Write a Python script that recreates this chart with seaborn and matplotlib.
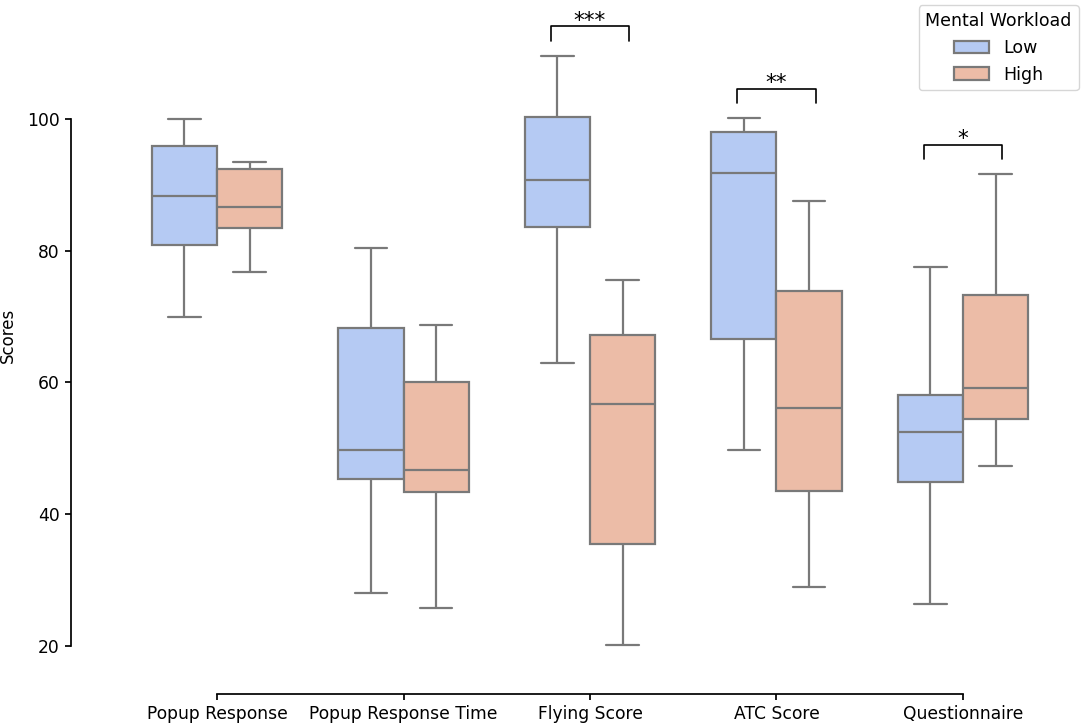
import numpy as np
import pandas as pd
import matplotlib
matplotlib.use('Agg')
import matplotlib.pyplot as plt
import seaborn as sns

# Categorias e níveis de carga mental
categorias = ['Popup Response', 'Popup Response Time', 'Flying Score', 'ATC Score', 'Questionnaire']
niveis = ['Low', 'High']

# Resumo de cinco números: mínimo, Q1, mediana, Q3, máximo
low_stats = [
    [70.0, 80.9, 88.35, 95.85, 100.0],
    [28.0, 45.4, 49.7, 68.2, 80.4],
    [63.0, 83.65, 90.8, 100.25, 109.6],
    [49.8, 66.55, 91.8, 98.0, 100.1],
    [26.3, 44.9, 52.4, 58.1, 77.5],
]
high_stats = [
    [76.7, 83.45, 86.7, 92.4, 93.4],
    [25.7, 43.3, 46.75, 60.0, 68.7],
    [20.2, 35.5, 56.7, 67.25, 75.6],
    [28.9, 43.5, 56.1, 73.9, 87.5],
    [47.35, 54.45, 59.2, 73.2, 91.6],
]
significancia = ['', '', '***', '**', '*']
yticks = [20, 40, 60, 80, 100]

# Montar o dataframe em formato longo
linhas = []
for i, cat in enumerate(categorias):
    for nivel, stats in zip(niveis, [low_stats[i], high_stats[i]]):
        for v in stats:
            linhas.append({'Task': cat, 'Mental Workload': nivel, 'Scores': v})
df = pd.DataFrame(linhas)

sns.set_theme(style='ticks')
plt.rcParams['font.family'] = ['DejaVu Sans']
plt.rcParams['font.size'] = 12
for chave in ['text.color', 'axes.labelcolor', 'xtick.color', 'ytick.color', 'axes.edgecolor']:
    plt.rcParams[chave] = 'black'

fig = plt.figure(figsize=(10.84, 7.26), dpi=100)
ax = fig.add_axes([71 / 1084, 32.3 / 726, 1013 / 1084, 693.7 / 726])

sns.boxplot(data=df, x='Task', y='Scores', hue='Mental Workload',
            order=categorias, hue_order=niveis, palette='coolwarm',
            width=0.7, whis=(0, 100), linecolor='gray', linewidth=1.6, ax=ax)

# Colchetes de significância
for i, s in enumerate(significancia):
    if not s:
        continue
    topo = max(low_stats[i][4], high_stats[i][4])
    y = topo + 2.3
    h = 2.2
    ax.plot([i - 0.21, i - 0.21, i + 0.21, i + 0.21], [y, y + h, y + h, y],
            color='black', lw=1.2)
    ax.text(i, y + h - 0.1, s, ha='center', va='baseline', fontsize=15.5)

ax.set_xlim(-0.783, 4.649)
ax.set_ylim(12.73, 118.07)
ax.set_yticks(yticks)
ax.set_xlabel('')
ax.set_ylabel('Scores', fontsize=12)
ax.yaxis.set_label_coords(-0.053, 0.517)
ax.tick_params(axis='both', labelsize=12.3, length=4.5, width=1.25)
sns.despine(ax=ax, trim=True)

sns.move_legend(ax, 'upper right', borderaxespad=0.3, fontsize=12.5,
                title_fontsize=12.5, frameon=True)

plt.savefig('out.png', dpi=100)
